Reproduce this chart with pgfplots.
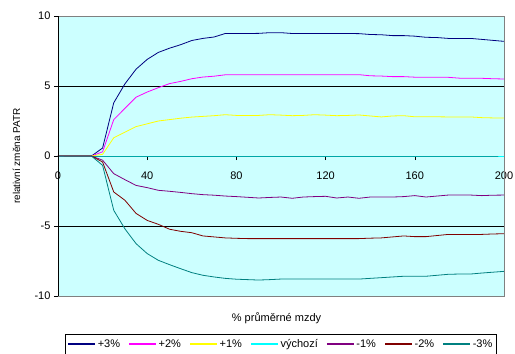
\documentclass[border=0pt]{standalone}
\usepackage{pgfplots}
\pgfplotsset{compat=1.18}
\usepackage{fontspec}
\setmainfont{Liberation Sans}
\definecolor{bgc}{HTML}{CCFFFF}
\definecolor{c3p}{HTML}{000080}
\definecolor{c2p}{HTML}{FF00FF}
\definecolor{c1p}{HTML}{FFFF00}
\definecolor{c0}{HTML}{00FFFF}
\definecolor{c1m}{HTML}{800080}
\definecolor{c2m}{HTML}{800000}
\definecolor{c3m}{HTML}{008080}
\begin{document}
\begin{tikzpicture}
\begin{axis}[
  name=ax,
  scale only axis,
  width=446pt, height=280pt,
  xmin=0, xmax=200, ymin=-10, ymax=10,
  axis x line*=middle, axis y line*=left,
  hide obscured x ticks=false,
  hide obscured y ticks=false,
  axis line style={-, black},
  axis background/.style={fill=bgc},
  xtick={0,40,80,120,160,200},
  xticklabels={0,40,80,120,160,200},
  ytick={-10,-5,0,5,10},
  yticklabels={-10,-5,0,5,10},
  tick align=outside,
  major tick length=4pt,
  tick style={black, thin},
  ymajorgrids, grid style={black, thin},
  tick label style={font=\fontsize{11}{13}\selectfont},
  xticklabel style={yshift=-8pt},
  ylabel={relativní změna PATR},
  ylabel style={font=\bfseries\fontsize{9.6}{11}\selectfont},
  every axis y label/.style={at={(axis description cs:-0.093,0.5)}, rotate=90, anchor=center},
  legend columns=7,
  legend style={at={(0.5,0)}, anchor=center, yshift=-48pt, draw=black,
    font=\fontsize{11}{13}\selectfont, inner xsep=2pt, inner ysep=3pt,
    /tikz/every even column/.append style={column sep=6.5pt}},
  legend image code/.code={\draw[#1, line width=1.1pt] (0pt,0pt) -- (27pt,0pt);},
  every axis plot/.append style={line width=0.8pt},
  clip=false,
]
\addplot[color=c3p] coordinates {(0,0)(5,0)(10,0)(15,0)(20,0.57)(25,3.8)(30,5.15)(35,6.2)(40,6.9)(45,7.4)(50,7.7)(55,7.95)(60,8.25)(65,8.4)(70,8.5)(75,8.75)(80,8.75)(85,8.75)(90,8.76)(95,8.81)(100,8.81)(105,8.75)(110,8.75)(115,8.75)(120,8.75)(125,8.75)(130,8.75)(135,8.74)(140,8.68)(145,8.66)(150,8.6)(155,8.6)(160,8.56)(165,8.48)(170,8.46)(175,8.4)(180,8.4)(185,8.4)(190,8.33)(195,8.26)(200,8.19)};
\addlegendentry{+3\%}
\addplot[color=c2p] coordinates {(0,0)(5,0)(10,0)(15,0)(20,0.3)(25,2.6)(30,3.4)(35,4.2)(40,4.57)(45,4.88)(50,5.17)(55,5.33)(60,5.52)(65,5.64)(70,5.7)(75,5.8)(80,5.81)(85,5.81)(90,5.81)(95,5.81)(100,5.81)(105,5.81)(110,5.81)(115,5.81)(120,5.81)(125,5.81)(130,5.81)(135,5.81)(140,5.73)(145,5.71)(150,5.67)(155,5.67)(160,5.63)(165,5.62)(170,5.62)(175,5.62)(180,5.56)(185,5.55)(190,5.55)(195,5.52)(200,5.5)};
\addlegendentry{+2\%}
\addplot[color=c1p] coordinates {(0,0)(5,0)(10,0)(15,0)(20,0.12)(25,1.3)(30,1.7)(35,2.1)(40,2.3)(45,2.5)(50,2.6)(55,2.7)(60,2.78)(65,2.83)(70,2.88)(75,2.95)(80,2.9)(85,2.9)(90,2.9)(95,2.95)(100,2.92)(105,2.88)(110,2.9)(115,2.95)(120,2.92)(125,2.88)(130,2.9)(135,2.93)(140,2.86)(145,2.79)(150,2.86)(155,2.88)(160,2.8)(165,2.8)(170,2.8)(175,2.79)(180,2.79)(185,2.79)(190,2.74)(195,2.72)(200,2.71)};
\addlegendentry{+1\%}
\addplot[color=c0] coordinates {(0,0)(5,0)(10,0)(15,0)(20,0)(25,0)(30,0)(35,0)(40,0)(45,0)(50,0)(55,0)(60,0)(65,0)(70,0)(75,0)(80,0)(85,0)(90,0)(95,0)(100,0)(105,0)(110,0)(115,0)(120,0)(125,0)(130,0)(135,0)(140,0)(145,0)(150,0)(155,0)(160,0)(165,0)(170,0)(175,0)(180,0)(185,0)(190,0)(195,0)(200,0)};
\addlegendentry{výchozí}
\addplot[color=c1m] coordinates {(0,0)(5,0)(10,0)(15,0)(20,-0.3)(25,-1.26)(30,-1.69)(35,-2.1)(40,-2.26)(45,-2.45)(50,-2.52)(55,-2.6)(60,-2.69)(65,-2.76)(70,-2.8)(75,-2.86)(80,-2.9)(85,-2.95)(90,-3.0)(95,-2.96)(100,-2.93)(105,-3.02)(110,-2.93)(115,-2.9)(120,-2.88)(125,-3.0)(130,-2.93)(135,-3.02)(140,-2.93)(145,-2.93)(150,-2.93)(155,-2.9)(160,-2.83)(165,-2.93)(170,-2.86)(175,-2.79)(180,-2.79)(185,-2.79)(190,-2.83)(195,-2.8)(200,-2.79)};
\addlegendentry{-1\%}
\addplot[color=c2m] coordinates {(0,0)(5,0)(10,0)(15,0)(20,-0.43)(25,-2.57)(30,-3.16)(35,-4.1)(40,-4.6)(45,-4.88)(50,-5.23)(55,-5.38)(60,-5.48)(65,-5.71)(70,-5.78)(75,-5.85)(80,-5.88)(85,-5.9)(90,-5.9)(95,-5.9)(100,-5.9)(105,-5.9)(110,-5.9)(115,-5.9)(120,-5.9)(125,-5.9)(130,-5.9)(135,-5.9)(140,-5.87)(145,-5.85)(150,-5.78)(155,-5.71)(160,-5.76)(165,-5.76)(170,-5.68)(175,-5.6)(180,-5.6)(185,-5.6)(190,-5.6)(195,-5.57)(200,-5.55)};
\addlegendentry{-2\%}
\addplot[color=c3m] coordinates {(0,0)(5,0)(10,0)(15,0)(20,-0.67)(25,-3.88)(30,-5.2)(35,-6.26)(40,-6.97)(45,-7.45)(50,-7.76)(55,-8.05)(60,-8.33)(65,-8.52)(70,-8.64)(75,-8.74)(80,-8.8)(85,-8.83)(90,-8.86)(95,-8.83)(100,-8.79)(105,-8.79)(110,-8.79)(115,-8.79)(120,-8.79)(125,-8.79)(130,-8.79)(135,-8.79)(140,-8.74)(145,-8.69)(150,-8.64)(155,-8.59)(160,-8.59)(165,-8.59)(170,-8.52)(175,-8.45)(180,-8.43)(185,-8.43)(190,-8.36)(195,-8.3)(200,-8.24)};
\addlegendentry{-3\%}
\draw[gray, thin] (rel axis cs:0,0) -- (rel axis cs:1,0) -- (rel axis cs:1,1) -- (rel axis cs:0,1);
\draw[black, thin] (rel axis cs:0,0) -- (rel axis cs:0,1);
\node[font=\fontsize{11}{13}\selectfont] at (rel axis cs:0.49,0) [yshift=-22pt] {\% průměrné mzdy};
\end{axis}
\pgfresetboundingbox
\path[use as bounding box] ([xshift=-58pt,yshift=-58pt]ax.south west) rectangle ([xshift=11pt,yshift=16pt]ax.north east);
\end{tikzpicture}
\end{document}
